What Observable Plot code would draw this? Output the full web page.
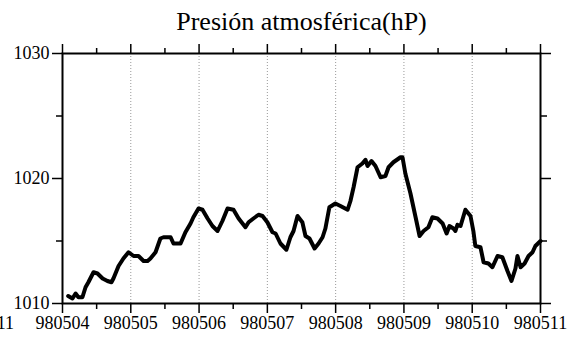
<!DOCTYPE html>
<html><head><meta charset="utf-8">
<script src="https://cdn.jsdelivr.net/npm/d3@7"></script>
<script src="https://cdn.jsdelivr.net/npm/@observablehq/plot@0.6"></script>
<style>html,body{margin:0;padding:0;background:#fff} svg{display:block}</style>
</head><body><div id="chart"></div>
<script>
const title = "Presión atmosférica(hP)";
const dayLabels = ["980504","980505","980506","980507","980508","980509","980510","980511"];
const yMajor = [1010, 1020, 1030];
const yMinor = [1015, 1025];
const startTime = "1998-05-04T00:00Z";
// hours after 980504 00:00
const hours = [
  2,3.5,4.6,5.6,7,8.1,9.1,10.9,12.3,14.1,
  15.8,17.2,17.9,19.7,21.4,23.2,25,26.7,28.5,29.9,
  30.9,32.7,34.4,35.5,38,39,41.5,43.2,45,46,
  47.8,49.2,51,52.7,54.5,56.2,58,60.1,61.9,64.3,
  65.4,67.1,68.9,
  70.3,72,73.8,74.9,76.6,78.7,80.1,81.2,82.6,84.3,
  85.4,86.8,88.6,90,91.4,92.4,93.8,95.9,97.7,100.2,
  101.2,102.3,103.7,105.4,106.5,107.2,108.6,110,111.8,113.5,
  114.6,116.3,118.8,119.5,120.5,122.3,124.1,125.5,126.9,128.6,
  130,
  131.8,133.6,135,136,137.4,138.1,138.8,139.9,141.6,143.4,
  144.4,145.1,146.9,148,149.7,151.1,152.9,154.6,156.4,157.8,
  159.2,159.9,161,162.4,163.8,165.2,166.2,168
];
const pressure = [
  1010.6,1010.4,1010.8,1010.5,1010.5,1011.3,1011.7,1012.5,1012.4,1012.0,
  1011.8,1011.7,1012.0,1013.0,1013.6,1014.1,1013.8,1013.8,1013.4,1013.4,
  1013.6,1014.1,1015.2,1015.3,1015.3,1014.8,1014.8,1015.7,1016.4,1016.9,
  1017.6,1017.5,1016.8,1016.2,1015.8,1016.6,1017.6,1017.5,1016.8,1016.1,
  1016.5,1016.8,1017.1,
  1017.0,1016.5,1015.7,1015.6,1014.8,1014.3,1015.3,1015.8,1017.0,1016.5,
  1015.4,1015.2,1014.4,1014.8,1015.3,1016.0,1017.7,1018.0,1017.8,1017.5,
  1018.2,1019.3,1020.9,1021.2,1021.5,1021.0,1021.4,1021.0,1020.1,1020.2,
  1020.9,1021.3,1021.7,1021.7,1020.4,1018.8,1016.9,1015.4,1015.8,1016.1,
  1016.9,
  1016.8,1016.4,1015.6,1016.2,1016.0,1015.8,1016.3,1016.2,1017.5,1017.0,
  1015.8,1014.6,1014.5,1013.3,1013.2,1012.9,1013.8,1013.7,1012.6,1011.8,
  1012.8,1013.8,1012.9,1013.2,1013.8,1014.1,1014.6,1015.0
];
// tail of a neighbouring panel's tick label, cut by the image edge
const neighborLabel = "980511";
const neighborLabelHour = -17;

const parse = d3.utcParse("%y%m%d");
const fmt = d3.utcFormat("%y%m%d");
const days = dayLabels.map(parse);
const halfDays = days.slice(0, -1).map(d => d3.utcHour.offset(d, 12));
const t0 = new Date(startTime);
const data = hours.map((h, i) => ({t: d3.utcMinute.offset(t0, Math.round(h * 60)), p: pressure[i]}));

const font = "'Liberation Serif','Times New Roman',Times,serif";
const chart = Plot.plot({
  width: 571, height: 340,
  marginLeft: 62, marginRight: 31, marginTop: 53, marginBottom: 37,
  style: {fontFamily: font, background: "white", color: "black", overflow: "visible"},
  x: {type: "utc", domain: [days[0], days[days.length - 1]]},
  y: {domain: [1010, 1030]},
  marks: [
    Plot.gridX(days.slice(1, -1), {stroke: "#999", strokeOpacity: 1, strokeDasharray: "1,2"}),
    Plot.line(data, {x: "t", y: "p", stroke: "black", strokeWidth: 4, strokeLinejoin: "round", strokeLinecap: "round"}),
    Plot.frame({stroke: "black", strokeWidth: 2}),
    // bottom
    Plot.axisX(days, {anchor: "bottom", tickSize: 10, tickPadding: 3, tickFormat: fmt, fontSize: 18, label: null, strokeWidth: 1.5}),
    Plot.axisX(halfDays, {anchor: "bottom", tickSize: 6, fill: "none", label: null, strokeWidth: 1.5}),
    // top
    Plot.axisX(days, {anchor: "top", tickSize: 10, fill: "none", label: null, strokeWidth: 1.5}),
    Plot.axisX(halfDays, {anchor: "top", tickSize: 6, fill: "none", label: null, strokeWidth: 1.5}),
    // left
    Plot.axisY(yMajor, {anchor: "left", tickSize: 10, tickPadding: 3, tickFormat: d => String(d), fontSize: 18, label: null, strokeWidth: 1.5}),
    Plot.axisY(yMinor, {anchor: "left", tickSize: 6, fill: "none", label: null, strokeWidth: 1.5}),
    // right
    Plot.axisY(yMajor, {anchor: "right", tickSize: 10, fill: "none", label: null, strokeWidth: 1.5}),
    Plot.axisY(yMinor, {anchor: "right", tickSize: 6, fill: "none", label: null, strokeWidth: 1.5}),
    // title
    Plot.text([title], {frameAnchor: "top", lineAnchor: "bottom", dy: -24, fontSize: 26, fill: "black"}),
    // clipped neighbour label
    Plot.text([neighborLabel], {x: () => d3.utcHour.offset(t0, neighborLabelHour), frameAnchor: "bottom", lineAnchor: "top", textAnchor: "end", dy: 13, fontSize: 18, fill: "black"})
  ]
});
document.getElementById("chart").appendChild(chart);
</script>
</body></html>
